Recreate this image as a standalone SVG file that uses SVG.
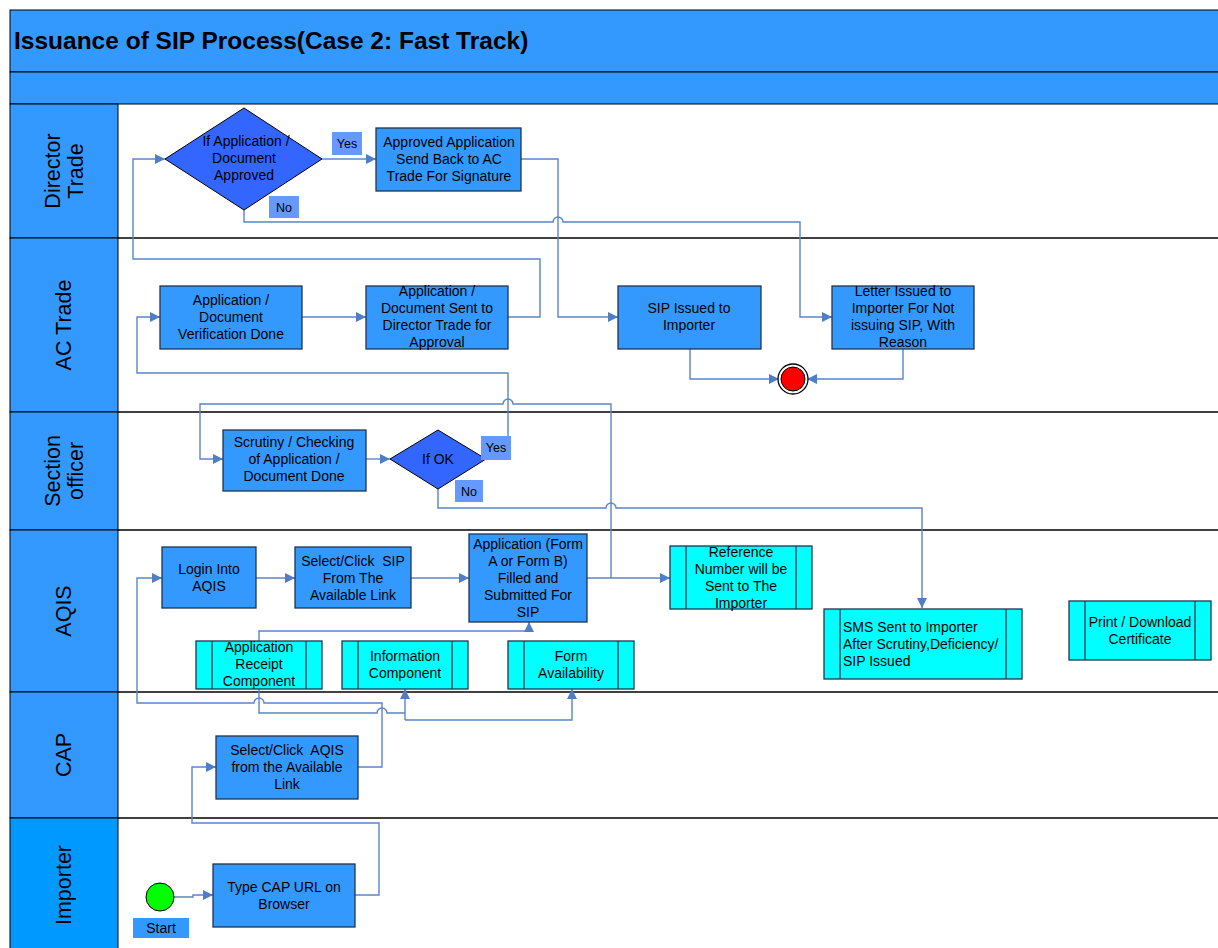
<svg xmlns="http://www.w3.org/2000/svg" width="1218" height="948" viewBox="0 0 1218 948">
<style>
text{font-family:"Liberation Sans",Arial,sans-serif;fill:#000}
.t{font-size:14px;text-anchor:middle}
.lane{font-size:21.5px;text-anchor:middle}
.box{fill:#3399FF;stroke:#1F3550;stroke-width:1.3}
.dia{fill:#3366FF;stroke:#000;stroke-width:1}
.cy{fill:#00FFFF;stroke:#1F3550;stroke-width:1.3}
.bar{stroke:#1F3550;stroke-width:1.3}
.lbl{fill:#6699FF}
.c{fill:none;stroke:#5B85C8;stroke-width:1.4}
.ca{fill:none;stroke:#5B85C8;stroke-width:1.4;marker-end:url(#ah)}
.hdr{fill:#3399FF;stroke:#000;stroke-width:1}
.ln{stroke:#000;stroke-width:1.3}
.yn{font-size:12.5px;text-anchor:middle}
</style>
<defs>
<marker id="ah" viewBox="0 0 10 10" refX="10" refY="5" markerWidth="10" markerHeight="10" markerUnits="userSpaceOnUse" orient="auto">
<path d="M0,0 L10,5 L0,10 z" fill="#4F7DC6"/>
</marker>
</defs>
<rect width="1218" height="948" fill="#fff"/>
<g id="pool">
<rect x="10" y="10" width="1215" height="62" class="hdr"/>
<rect x="10" y="72" width="1215" height="32" class="hdr"/>
<text x="14" y="49" style="font-size:24.5px;font-weight:bold">Issuance of SIP Process(Case 2: Fast Track)</text>
<rect x="10" y="104" width="108" height="134" class="hdr"/>
<rect x="10" y="238" width="108" height="174" class="hdr"/>
<rect x="10" y="412" width="108" height="118" class="hdr"/>
<rect x="10" y="530" width="108" height="162" class="hdr"/>
<rect x="10" y="692" width="108" height="126" class="hdr"/>
<rect x="10" y="818" width="108" height="140" fill="#0099FF" stroke="#000"/>
<line x1="118" y1="238" x2="1218" y2="238" class="ln"/>
<line x1="118" y1="412" x2="1218" y2="412" class="ln"/>
<line x1="118" y1="530" x2="1218" y2="530" class="ln"/>
<line x1="118" y1="692" x2="1218" y2="692" class="ln"/>
<line x1="118" y1="818" x2="1218" y2="818" class="ln"/>
<text class="lane" transform="translate(64,171) rotate(-90)"><tspan x="0" y="-4">Director</tspan><tspan x="0" y="19">Trade</tspan></text>
<text class="lane" transform="translate(64,325) rotate(-90)"><tspan x="0" y="7">AC Trade</tspan></text>
<text class="lane" transform="translate(64,471) rotate(-90)"><tspan x="0" y="-4">Section</tspan><tspan x="0" y="19">officer</tspan></text>
<text class="lane" transform="translate(64,611) rotate(-90)"><tspan x="0" y="7">AQIS</tspan></text>
<text class="lane" transform="translate(64,755) rotate(-90)"><tspan x="0" y="7">CAP</tspan></text>
<text class="lane" transform="translate(64,885) rotate(-90)"><tspan x="0" y="7">Importer</tspan></text>
</g>
<g id="connectors">
<path class="ca" d="M322,159 H376"/>
<path class="ca" d="M244,210 V222 H553 a5,5 0 0 1 10,0 H800 V317 H832"/>
<path class="ca" d="M521,159 H558 V317 H618"/>
<path class="ca" d="M302,317 H366"/>
<path class="ca" d="M508,317 H540 V259 H133 V159 H165"/>
<path class="ca" d="M690,349 V379 H779"/>
<path class="ca" d="M903,349 V379 H807"/>
<path class="ca" d="M486,459 H508 V373 H137 V317 H160"/>
<path class="ca" d="M587,578 H670"/>
<path class="ca" d="M611,578 V404 H513 a5,5 0 0 0 -10,0 H200 V459 H223"/>
<path class="ca" d="M366,459 H390"/>
<path class="ca" d="M438,489 V508 H606 a5,5 0 0 1 10,0 H922 V608"/>
<path class="ca" d="M256,578 H295"/>
<path class="ca" d="M411,578 H469"/>
<path class="ca" d="M259,641 V631 H529 V622"/>
<path class="c" d="M259,689 V713 H377 a5,5 0 0 1 10,0 H405"/>
<path class="ca" d="M405,720 V689"/>
<path class="ca" d="M405,720 H572 V689"/>
<path class="ca" d="M358,767 H382 V703 H264 a5,5 0 0 0 -10,0 H137 V578 H162"/>
<path class="ca" d="M355,895 H379 V823 H192 V767 H216"/>
<path class="ca" d="M174,897 H193 V895 H213"/>
</g>
<g id="decision-approved">
<polygon points="244,108 322,159 244,210 165,159" class="dia"/>
<text class="t"><tspan x="246" y="146">If Application /</tspan><tspan x="244" y="163">Document</tspan><tspan x="244" y="180">Approved</tspan></text>
</g>
<g id="label-yes-1"><rect x="332" y="132" width="30" height="23" class="lbl"/><text x="347" y="148" class="yn">Yes</text></g>
<g id="label-no-1"><rect x="269" y="196" width="30" height="22" class="lbl"/><text x="284" y="212" class="yn">No</text></g>
<g id="approved-send-back">
<rect x="376" y="128" width="145" height="63" class="box"/>
<text class="t"><tspan x="449" y="147">Approved Application</tspan><tspan x="449" y="164">Send Back to AC</tspan><tspan x="449" y="181">Trade For Signature</tspan></text>
</g>
<g id="verification-done">
<rect x="160" y="286" width="142" height="63" class="box"/>
<text class="t"><tspan x="231" y="305">Application /</tspan><tspan x="231" y="322">Document</tspan><tspan x="231" y="339">Verification Done</tspan></text>
</g>
<g id="sent-to-director">
<rect x="366" y="286" width="142" height="63" class="box"/>
<text class="t"><tspan x="437" y="296">Application /</tspan><tspan x="437" y="313">Document Sent to</tspan><tspan x="437" y="330">Director Trade for</tspan><tspan x="437" y="347">Approval</tspan></text>
</g>
<g id="sip-issued">
<rect x="618" y="286" width="143" height="63" class="box"/>
<text class="t"><tspan x="689" y="313">SIP Issued to</tspan><tspan x="689" y="330">Importer</tspan></text>
</g>
<g id="letter-issued">
<rect x="832" y="286" width="142" height="63" class="box"/>
<text class="t"><tspan x="903" y="296">Letter Issued to</tspan><tspan x="903" y="313">Importer For Not</tspan><tspan x="903" y="330">issuing SIP, With</tspan><tspan x="903" y="347">Reason</tspan></text>
</g>
<g id="end">
<circle cx="793" cy="379" r="15" fill="#fff" stroke="#000" stroke-width="1.3"/>
<circle cx="793" cy="379" r="12" fill="#FF0000" stroke="#000" stroke-width="1"/>
</g>
<g id="scrutiny">
<rect x="223" y="430" width="143" height="61" class="box"/>
<text class="t"><tspan x="294" y="447">Scrutiny / Checking</tspan><tspan x="294" y="464">of Application /</tspan><tspan x="294" y="481">Document Done</tspan></text>
</g>
<g id="decision-ok">
<polygon points="438,430 486,459 438,489 390,459" class="dia"/>
<text class="t" x="438" y="464">If OK</text>
</g>
<g id="label-yes-2"><rect x="481" y="436" width="30" height="24" class="lbl"/><text x="496" y="452" class="yn">Yes</text></g>
<g id="label-no-2"><rect x="455" y="480" width="28" height="22" class="lbl"/><text x="469" y="496" class="yn">No</text></g>
<g id="login">
<rect x="162" y="547" width="94" height="61" class="box"/>
<text class="t"><tspan x="209" y="574">Login Into</tspan><tspan x="209" y="591">AQIS</tspan></text>
</g>
<g id="select-sip">
<rect x="295" y="547" width="116" height="61" class="box"/>
<text class="t"><tspan x="353" y="566">Select/Click&#160; SIP</tspan><tspan x="353" y="583">From The</tspan><tspan x="353" y="600">Available Link</tspan></text>
</g>
<g id="application-form">
<rect x="469" y="534" width="118" height="88" class="box"/>
<text class="t"><tspan x="528" y="549">Application (Form</tspan><tspan x="528" y="566">A or Form B)</tspan><tspan x="528" y="583">Filled and</tspan><tspan x="528" y="600">Submitted For</tspan><tspan x="528" y="617">SIP</tspan></text>
</g>
<g id="reference-number">
<rect x="670" y="546" width="142" height="63" class="cy"/>
<line x1="686" y1="546" x2="686" y2="609" class="bar"/><line x1="796" y1="546" x2="796" y2="609" class="bar"/>
<text class="t"><tspan x="741" y="557">Reference</tspan><tspan x="741" y="574">Number will be</tspan><tspan x="741" y="591">Sent to The</tspan><tspan x="741" y="608">Importer</tspan></text>
</g>
<g id="sms-sent">
<rect x="824" y="609" width="198" height="70" class="cy"/>
<line x1="840" y1="609" x2="840" y2="679" class="bar"/><line x1="1006" y1="609" x2="1006" y2="679" class="bar"/>
<text style="font-size:14px"><tspan x="843" y="632">SMS Sent to Importer</tspan><tspan x="843" y="649">After Scrutiny,Deficiency/</tspan><tspan x="843" y="666">SIP Issued</tspan></text>
</g>
<g id="print-download">
<rect x="1069" y="601" width="142" height="59" class="cy"/>
<line x1="1085" y1="601" x2="1085" y2="660" class="bar"/><line x1="1195" y1="601" x2="1195" y2="660" class="bar"/>
<text class="t"><tspan x="1140" y="627">Print / Download</tspan><tspan x="1140" y="644">Certificate</tspan></text>
</g>
<g id="app-receipt">
<rect x="196" y="641" width="126" height="48" class="cy"/>
<line x1="212" y1="641" x2="212" y2="689" class="bar"/><line x1="306" y1="641" x2="306" y2="689" class="bar"/>
<text class="t"><tspan x="259" y="652">Application</tspan><tspan x="259" y="669">Receipt</tspan><tspan x="259" y="686">Component</tspan></text>
</g>
<g id="info-component">
<rect x="342" y="641" width="126" height="48" class="cy"/>
<line x1="358" y1="641" x2="358" y2="689" class="bar"/><line x1="452" y1="641" x2="452" y2="689" class="bar"/>
<text class="t"><tspan x="405" y="661">Information</tspan><tspan x="405" y="678">Component</tspan></text>
</g>
<g id="form-availability">
<rect x="508" y="641" width="126" height="48" class="cy"/>
<line x1="524" y1="641" x2="524" y2="689" class="bar"/><line x1="618" y1="641" x2="618" y2="689" class="bar"/>
<text class="t"><tspan x="571" y="661">Form</tspan><tspan x="571" y="678">Availability</tspan></text>
</g>
<g id="select-aqis">
<rect x="216" y="736" width="142" height="63" class="box"/>
<text class="t"><tspan x="287" y="755">Select/Click&#160; AQIS</tspan><tspan x="287" y="772">from the Available</tspan><tspan x="287" y="789">Link</tspan></text>
</g>
<g id="start">
<circle cx="160" cy="897" r="14" fill="#00FF00" stroke="#000" stroke-width="1"/>
<rect x="133" y="918" width="56" height="20" fill="#3399FF"/>
<text x="161" y="933" class="t">Start</text>
</g>
<g id="type-cap-url">
<rect x="213" y="864" width="142" height="63" class="box"/>
<text class="t"><tspan x="284" y="892">Type CAP URL on</tspan><tspan x="284" y="909">Browser</tspan></text>
</g>
</svg>
